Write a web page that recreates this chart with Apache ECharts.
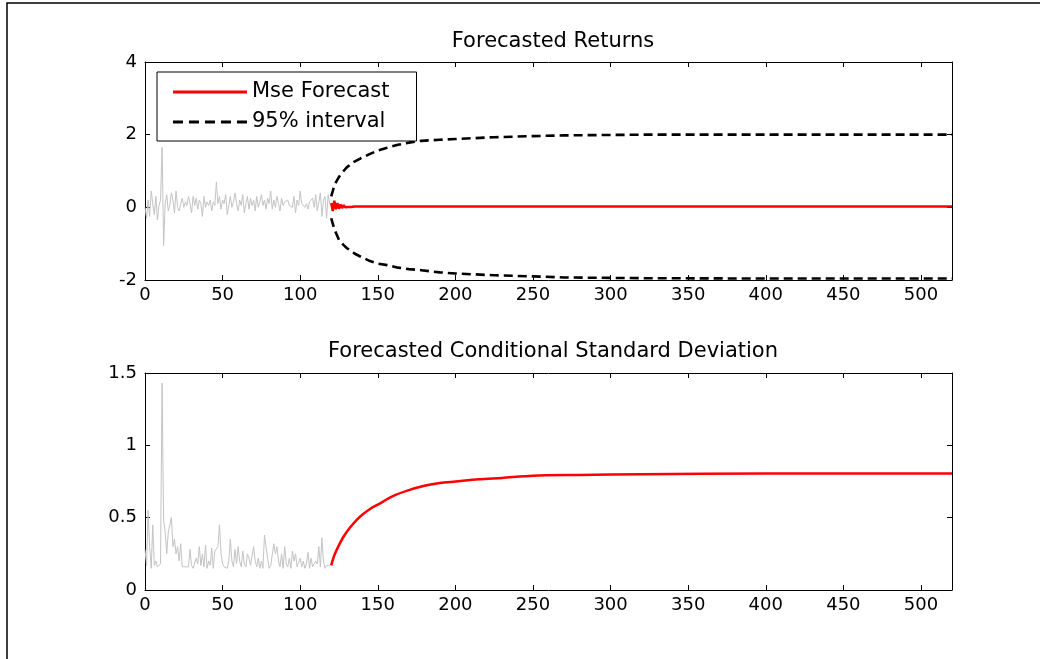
<!DOCTYPE html>
<html>
<head>
<meta charset="utf-8">
<script src="https://cdn.jsdelivr.net/npm/echarts@6/dist/echarts.min.js"></script>
<style>
html,body{margin:0;padding:0;background:#fff;}
#chart{width:1040px;height:659px;}
</style>
</head>
<body>
<div id="chart"></div>
<script>
// ---------- DATA ----------
// Observed returns (x = 0..119)
var retHist = [0.0,-0.3,0.2,-0.25,0.45,0.1,-0.2,0.3,-0.35,0.05,0.2,
  1.65,-1.05,0.1,0.35,-0.1,0.05,0.4,0.2,-0.15,0.45,0.0,-0.1,0.1,0.25,0.0,0.15,0.05,0.3,0.1,
  -0.15,0.3,0.05,0.25,-0.05,0.2,0.1,-0.25,0.3,0.0,0.15,0.05,0.2,-0.1,0.15,0.05,0.7,0.1,0.3,-0.05,
  0.2,0.1,0.35,-0.2,0.05,0.3,0.0,0.15,0.4,0.1,-0.1,0.2,0.05,0.35,-0.15,0.1,0.3,-0.05,0.25,0.05,
  0.2,-0.1,0.3,0.0,0.15,0.35,0.05,0.2,-0.05,0.25,0.1,0.45,-0.05,0.2,0.0,0.3,0.1,-0.1,0.25,0.05,
  0.15,0.1,0.2,0.05,0.1,0.0,0.3,-0.15,0.2,0.05,0.45,0.1,0.05,0.0,0.1,-0.05,0.15,0.1,0.25,0.0,
  0.35,-0.1,0.15,0.4,-0.25,0.2,0.3,-0.3,0.35,0.1];
// Observed conditional standard deviation (x = 0..119)
var sigHist = [0.28,0.17,0.55,0.3,0.15,0.45,0.17,0.2,0.16,0.17,0.18,
  1.43,0.48,0.4,0.25,0.4,0.45,0.5,0.3,0.35,0.25,0.3,0.2,0.32,0.16,0.17,0.16,0.15,0.16,0.28,
  0.17,0.15,0.16,0.22,0.18,0.3,0.17,0.25,0.16,0.31,0.15,0.2,0.17,0.29,0.15,0.27,0.28,0.3,0.45,0.25,
  0.18,0.16,0.17,0.15,0.2,0.35,0.2,0.16,0.28,0.18,0.3,0.2,0.16,0.27,0.18,0.16,0.25,0.22,0.17,0.16,
  0.3,0.2,0.16,0.22,0.15,0.2,0.15,0.38,0.3,0.22,0.15,0.17,0.18,0.32,0.25,0.3,0.2,0.16,0.25,0.15,
  0.3,0.18,0.16,0.22,0.15,0.27,0.2,0.25,0.16,0.15,0.22,0.16,0.2,0.15,0.18,0.26,0.15,0.22,0.16,0.15,
  0.2,0.18,0.3,0.16,0.36,0.2,0.15,0.17,0.16,0.17];
// MSE forecast of returns
var fcX    = [120,121,122,123,124,125,126,127,128,129,130,131,132,133,134,135,136,138,140,145,520];
var fcRet  = [0.12,-0.1,0.18,-0.05,0.12,-0.04,0.08,-0.02,0.06,0.0,0.05,0.01,0.04,0.01,0.03,0.02,0.02,0.02,0.02,0.02,0.02];
// 95% interval bounds
var bandX  = [120,121,122,125,128,130,135,139,145,150,156,163,170,178,190,200,225,250,270,320,400,520];
var bandUp = [0.3,0.45,0.61,0.84,1.0,1.1,1.26,1.35,1.47,1.56,1.64,1.72,1.78,1.83,1.86,1.88,1.93,1.96,1.98,2.0,2.0,2.0];
var bandLo = [-0.3,-0.45,-0.6,-0.9,-1.04,-1.12,-1.27,-1.36,-1.48,-1.55,-1.59,-1.66,-1.7,-1.73,-1.79,-1.82,-1.87,-1.9,-1.93,-1.95,-1.96,-1.96];
// Forecast conditional standard deviation
var sdX    = [120,122,125,128,132,136,140,145,150,160,170,180,190,200,215,230,250,280,320,400,520];
var sdFc   = [0.17,0.24,0.31,0.37,0.43,0.48,0.52,0.56,0.59,0.65,0.69,0.72,0.74,0.75,0.765,0.775,0.79,0.795,0.80,0.805,0.805];
// Titles and legend labels
var titles = ['Forecasted Returns','Forecasted Conditional Standard Deviation'];
var legendNames = ['Mse Forecast','95% interval'];

// ---------- BUILD ----------
function pairs(xs, ys, x0){ return ys.map(function(v,i){ return [xs ? xs[i] : x0 + i, v]; }); }

var FONT = 'DejaVu Sans';
var chart = echarts.init(document.getElementById('chart'), null, {renderer:'canvas'});

function xAx(grid, pos, labels){
  return {type:'value', gridIndex:grid, position:pos, min:0, max:520, interval:50,
    axisLine:{show:true, onZero:false, lineStyle:{color:'#000', width:1}},
    axisTick:{show:true, inside:true, length:5, lineStyle:{color:'#000'}},
    splitLine:{show:false},
    axisLabel:{show:labels, color:'#000', fontFamily:FONT, fontSize:18, margin:6,
      formatter:function(v){ return v>500 ? '' : String(v); }}
  };
}
function yAx(grid, pos, labels, mn, mx, itv){
  return {type:'value', gridIndex:grid, position:pos, min:mn, max:mx, interval:itv,
    axisLine:{show:true, onZero:false, lineStyle:{color:'#000', width:1}},
    axisTick:{show:true, inside:true, length:5, lineStyle:{color:'#000'}},
    splitLine:{show:false},
    axisLabel:{show:labels, color:'#000', fontFamily:FONT, fontSize:18, margin:8}
  };
}

var solidIcon  = 'path://M0,0h74v3h-74z';
var dashedIcon = 'path://M0,0h10v3h-10zM16,0h10v3h-10zM32,0h10v3h-10zM48,0h10v3h-10zM64,0h10v3h-10z';

var option = {
  backgroundColor:'#fff',
  animation:false,
  title:[
    {text:titles[0], left:548, top:26, textAlign:'center',
      textStyle:{fontFamily:FONT, fontSize:21, fontWeight:'normal', color:'#000'}},
    {text:titles[1], left:548, top:336, textAlign:'center',
      textStyle:{fontFamily:FONT, fontSize:21, fontWeight:'normal', color:'#000'}}
  ],
  legend:{
    data:[{name:legendNames[0], icon:solidIcon}, {name:legendNames[1], icon:dashedIcon}],
    orient:'vertical', left:157, top:72,
    itemWidth:74, itemHeight:3, itemGap:8,
    padding:[9,27,8,16],
    borderColor:'#000', borderWidth:1, backgroundColor:'#fff',
    itemStyle:{borderWidth:0},
    textStyle:{fontFamily:FONT, fontSize:21, color:'#000', lineHeight:22}
  },
  grid:[
    {left:145, right:88, top:62, height:218},
    {left:145, right:88, top:373, height:217}
  ],
  xAxis:[xAx(0,'bottom',true), xAx(0,'top',false), xAx(1,'bottom',true), xAx(1,'top',false)],
  yAxis:[yAx(0,'left',true,-2,4,2), yAx(0,'right',false,-2,4,2),
         yAx(1,'left',true,0,1.5,0.5), yAx(1,'right',false,0,1.5,0.5)],
  series:[
    {type:'line', name:'returns', xAxisIndex:0, yAxisIndex:0, data:pairs(null, retHist, 0),
      showSymbol:false, symbol:'none', lineStyle:{color:'#c4c4c4', width:1}, z:2},
    {type:'line', name:legendNames[1], xAxisIndex:0, yAxisIndex:0, data:pairs(bandX, bandUp),
      showSymbol:false, symbol:'none', color:'#000', lineStyle:{color:'#000', width:2.6, type:[9,5]}, z:3},
    {type:'line', name:legendNames[1], xAxisIndex:0, yAxisIndex:0, data:pairs(bandX, bandLo),
      showSymbol:false, symbol:'none', color:'#000', lineStyle:{color:'#000', width:2.6, type:[9,5]}, z:3},
    {type:'line', name:legendNames[0], xAxisIndex:0, yAxisIndex:0, data:pairs(fcX, fcRet),
      showSymbol:false, symbol:'none', color:'#ff0000', lineStyle:{color:'#ff0000', width:2.5}, z:4},
    {type:'line', name:'sigma', xAxisIndex:2, yAxisIndex:2, data:pairs(null, sigHist, 0),
      showSymbol:false, symbol:'none', lineStyle:{color:'#c4c4c4', width:1}, z:2},
    {type:'line', name:'sigmaFc', xAxisIndex:2, yAxisIndex:2, data:pairs(sdX, sdFc),
      showSymbol:false, symbol:'none', smooth:0.3, color:'#ff0000', lineStyle:{color:'#ff0000', width:2.5}, z:4}
  ],
  graphic:[
    {type:'rect', shape:{x:7, y:3, width:1100, height:700}, style:{fill:null, stroke:'#000', lineWidth:1.5}, silent:true, z:-1}
  ]
};
chart.setOption(option);
</script>
</body>
</html>
